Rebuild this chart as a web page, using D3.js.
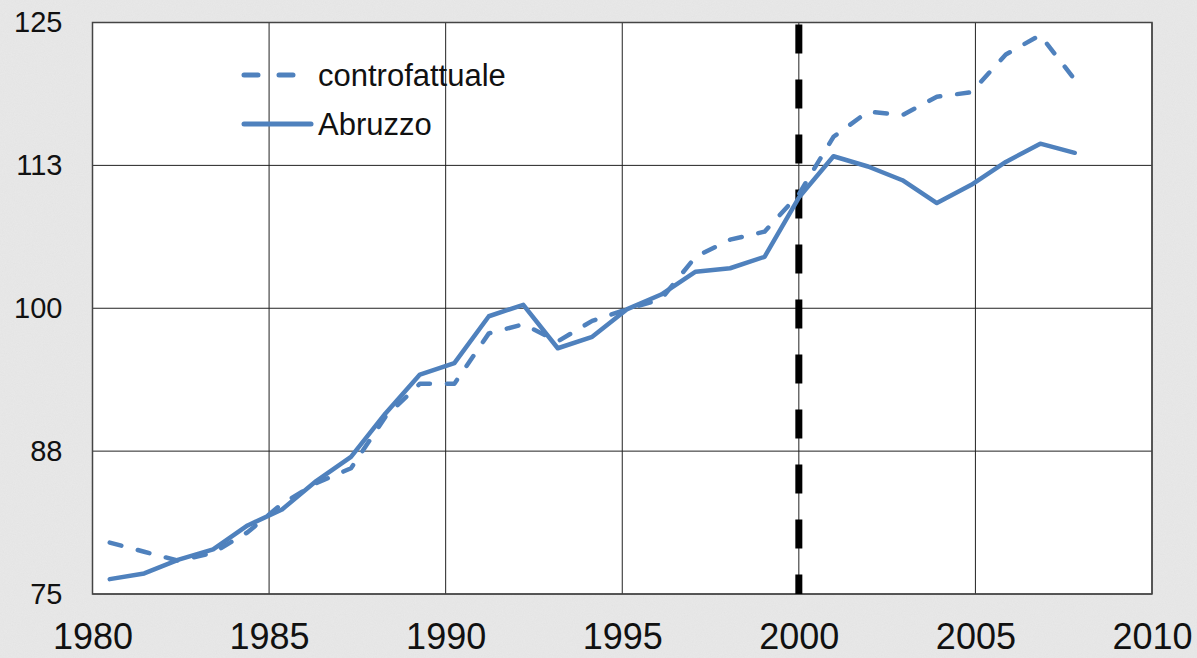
<!DOCTYPE html>
<html>
<head>
<meta charset="utf-8">
<script src="https://cdn.jsdelivr.net/npm/d3@7"></script>
<style>
  body { margin: 0; background: #e8e8e8; }
  svg { display: block; font-family: "Liberation Sans", Arial, sans-serif; }
</style>
</head>
<body>
<div class="chart"></div>
<script>
// years of the observations
var years = d3.range(1980, 2009);

// Abruzzo (solid) and controfattuale (dashed)
var abruzzo = [76.3, 76.8, 78.0, 78.9, 81.0, 82.4, 84.9, 87.0, 90.8, 94.2,
  95.2, 99.3, 100.3, 96.5, 97.5, 99.9, 101.2, 103.2, 103.5, 104.5,
  109.7, 113.3, 112.4, 111.2, 109.2, 110.8, 112.8, 114.4, 113.6];
var controfattuale = [79.5, 78.7, 77.9, 78.6, 80.4, 82.9, 84.7, 86.0, 90.5, 93.4,
  93.4, 97.8, 98.6, 97.1, 98.9, 99.9, 100.8, 104.5, 106.0, 106.7,
  110.0, 115.0, 117.2, 116.9, 118.5, 118.9, 122.2, 123.9, 120.0];

// axis ticks
var xTicks = [1980, 1985, 1990, 1995, 2000, 2005, 2010];
var yTicks = [75, 87.5, 100, 112.5, 125];
var yTickLabels = ["75", "88", "100", "113", "125"];
var treatmentYear = 2000;

var svgWidth = 1197;
var svgHeight = 658;

var margin = { top: 22.5, right: 45, bottom: 64, left: 92.5 };
var width = svgWidth - margin.left - margin.right;
var height = svgHeight - margin.top - margin.bottom;

var svg = d3.select(".chart")
  .append("svg")
  .attr("width", svgWidth)
  .attr("height", svgHeight);

// grainy grey background
var defs = svg.append("defs");
var noise = defs.append("filter").attr("id", "grain");
noise.append("feTurbulence")
  .attr("type", "fractalNoise")
  .attr("baseFrequency", 0.9)
  .attr("numOctaves", 2)
  .attr("seed", 3);
noise.append("feColorMatrix")
  .attr("type", "matrix")
  .attr("values", "0 0 0 0 0.55  0 0 0 0 0.55  0 0 0 0 0.55  0 0 0 0.25 0");

svg.append("rect").attr("width", svgWidth).attr("height", svgHeight).attr("fill", "#e9e9e9");
svg.append("rect").attr("width", svgWidth).attr("height", svgHeight)
  .attr("filter", "url(#grain)").attr("opacity", 0.6);

var chartGroup = svg.append("g")
  .attr("transform", `translate(${margin.left}, ${margin.top})`);

// scales
var xScale = d3.scaleLinear().domain([1980, 2010]).range([0, width]);
var yScale = d3.scaleLinear().domain([75, 125]).range([height, 0]);

// observations sit in category slots (Excel line chart on top of the year axis)
var xObs = d3.scalePoint()
  .domain(years)
  .range([xScale(1980), xScale(2008.3)])
  .padding(0.5);

// plot area
chartGroup.append("rect")
  .attr("width", width)
  .attr("height", height)
  .attr("fill", "white");

// gridlines
chartGroup.append("g")
  .selectAll("line")
  .data(yTicks)
  .enter()
  .append("line")
  .attr("x1", 0)
  .attr("x2", width)
  .attr("y1", d => yScale(d))
  .attr("y2", d => yScale(d))
  .attr("stroke", "#222")
  .attr("stroke-width", 1);

chartGroup.append("g")
  .selectAll("line")
  .data(xTicks)
  .enter()
  .append("line")
  .attr("x1", d => xScale(d))
  .attr("x2", d => xScale(d))
  .attr("y1", 0)
  .attr("y2", height)
  .attr("stroke", "#222")
  .attr("stroke-width", 1);

// border
chartGroup.append("rect")
  .attr("width", width)
  .attr("height", height)
  .attr("fill", "none")
  .attr("stroke", "#444")
  .attr("stroke-width", 1.5);

// treatment line
chartGroup.append("line")
  .attr("x1", xScale(treatmentYear))
  .attr("x2", xScale(treatmentYear))
  .attr("y1", 2)
  .attr("y2", height)
  .attr("stroke", "black")
  .attr("stroke-width", 7)
  .attr("stroke-dasharray", "29,26");

// y axis labels
var yAxis = d3.axisLeft(yScale)
  .tickValues(yTicks)
  .tickFormat((d, i) => yTickLabels[i])
  .tickSize(0)
  .tickPadding(30);

chartGroup.append("g")
  .call(yAxis)
  .call(g => g.select(".domain").remove())
  .selectAll("text")
  .attr("font-family", "Liberation Sans, Arial, sans-serif")
  .attr("font-size", "29px")
  .attr("fill", "#111");

// x axis labels
var xAxis = d3.axisBottom(xScale)
  .tickValues(xTicks)
  .tickFormat(d3.format("d"))
  .tickSize(0)
  .tickPadding(29);

chartGroup.append("g")
  .attr("transform", `translate(0, ${height})`)
  .call(xAxis)
  .call(g => g.select(".domain").remove())
  .selectAll("text")
  .attr("font-family", "Liberation Sans, Arial, sans-serif")
  .attr("font-size", "36px")
  .attr("fill", "#111");

// series
var lineGen = d3.line()
  .x((d, i) => xObs(years[i]))
  .y(d => yScale(d));

var blue = "#4f81bd";

chartGroup.append("path")
  .datum(abruzzo)
  .attr("d", lineGen)
  .attr("fill", "none")
  .attr("stroke", blue)
  .attr("stroke-width", 4.5)
  .attr("stroke-linejoin", "round")
  .attr("stroke-linecap", "round");

chartGroup.append("path")
  .datum(controfattuale)
  .attr("d", lineGen)
  .attr("fill", "none")
  .attr("stroke", blue)
  .attr("stroke-width", 4.5)
  .attr("stroke-linejoin", "round")
  .attr("stroke-linecap", "round")
  .attr("stroke-dasharray", "12,17");

// legend
var legend = svg.append("g");
var legendItems = [
  { name: "controfattuale", dash: "14,21", y: 75 },
  { name: "Abruzzo", dash: null, y: 124 }
];

legendItems.forEach(function(item) {
  legend.append("line")
    .attr("x1", 244)
    .attr("x2", item.dash ? 296 : 311)
    .attr("y1", item.y)
    .attr("y2", item.y)
    .attr("stroke", blue)
    .attr("stroke-width", 5)
    .attr("stroke-linecap", "round")
    .attr("stroke-dasharray", item.dash);

  legend.append("text")
    .attr("x", 318)
    .attr("y", item.y + 11)
    .attr("font-size", "31px")
    .attr("fill", "#111")
    .text(item.name);
});
</script>
</body>
</html>
